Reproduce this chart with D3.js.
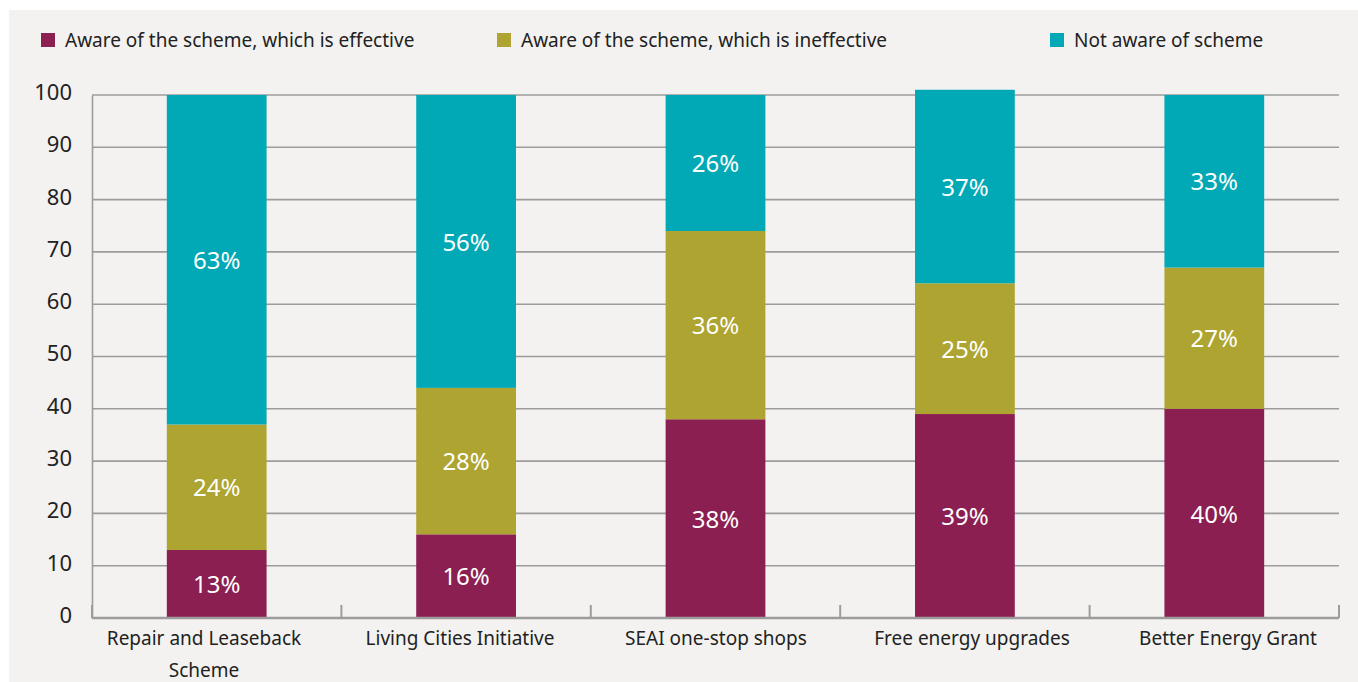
<!DOCTYPE html>
<html>
<head>
<meta charset="utf-8">
<script src="https://cdn.jsdelivr.net/npm/d3@7"></script>
<style>
  body { margin: 0; background: #ffffff; }
  svg { display: block; }
</style>
</head>
<body>
<div class="chart"></div>
<script>
// chart data
const categories = [
    ["Repair and Leaseback", "Scheme"],
    ["Living Cities Initiative"],
    ["SEAI one-stop shops"],
    ["Free energy upgrades"],
    ["Better Energy Grant"]
];
const seriesNames = [
    "Aware of the scheme, which is effective",
    "Aware of the scheme, which is ineffective",
    "Not aware of scheme"
];
const effective = [13, 16, 38, 39, 40];
const ineffective = [24, 28, 36, 25, 27];
const notAware = [63, 56, 26, 37, 33];
const yTicks = [0, 10, 20, 30, 40, 50, 60, 70, 80, 90, 100];

const colors = ["#8c1f51", "#ada431", "#00a9b5"];

const svgWidth = 1358;
const svgHeight = 682;
const margin = { top: 95, bottom: 64, left: 92, right: 19 };
const width = svgWidth - margin.left - margin.right;
const height = svgHeight - margin.top - margin.bottom;
const fontFamily = '"Noto Sans", "Open Sans", sans-serif';

var svg = d3.select('div.chart')
    .append('svg')
    .attr('width', svgWidth)
    .attr('height', svgHeight)
    .style('font-family', fontFamily);

// panel background
svg.append('rect')
    .attr('x', 9).attr('y', 10)
    .attr('width', svgWidth - 9).attr('height', svgHeight - 10)
    .attr('fill', '#f3f2f0');

var chart = svg.append('g')
    .attr('transform', 'translate(' + margin.left + ',' + margin.top + ')');

var x = d3.scaleBand()
    .domain(d3.range(categories.length))
    .range([0, width])
    .paddingInner(0.6)
    .paddingOuter(0.3);

// the category labels sit a little wider apart than the bars
var xLabel = d3.scalePoint()
    .domain(d3.range(categories.length))
    .range([112, 1136]);

var y = d3.scaleLinear()
    .domain([0, 100])
    .range([height, 0]);

// gridlines
chart.append('g')
    .selectAll('line')
    .data(yTicks.filter(d => d > 0))
    .enter()
    .append('line')
    .attr('x1', 0).attr('x2', width)
    .attr('y1', d => y(d)).attr('y2', d => y(d))
    .attr('stroke', '#9c9c9c')
    .attr('stroke-width', 1.6);

// stacked data
const rows = categories.map((c, i) => ({ i: i, v0: effective[i], v1: ineffective[i], v2: notAware[i] }));
var stack = d3.stack().keys(['v0', 'v1', 'v2']);
var layers = stack(rows);

var layer = chart.selectAll('g.layer')
    .data(layers)
    .enter()
    .append('g')
    .attr('class', 'layer')
    .attr('fill', (d, i) => colors[i]);

layer.selectAll('rect')
    .data(d => d)
    .enter()
    .append('rect')
    .attr('x', d => x(d.data.i))
    .attr('y', d => y(d[1]))
    .attr('width', x.bandwidth())
    .attr('height', d => y(d[0]) - y(d[1]));

layer.selectAll('text')
    .data(d => d)
    .enter()
    .append('text')
    .attr('x', d => x(d.data.i) + x.bandwidth() / 2)
    .attr('y', d => (y(d[0]) + y(d[1])) / 2)
    .attr('dy', '0.38em')
    .attr('text-anchor', 'middle')
    .attr('fill', '#ffffff')
    .style('font-size', '24px')
    .text(d => (d[1] - d[0]) + '%');

// y axis
var y_axis = d3.axisLeft(y).tickValues(yTicks).tickSize(0).tickPadding(20);
var gy = chart.append('g').call(y_axis).attr('font-family', fontFamily);
gy.select('.domain').attr('stroke', '#9c9c9c').attr('stroke-width', 1.6);
gy.selectAll('text')
    .attr('dy', '0.2em')
    .style('font-size', '22px')
    .attr('fill', '#222222');

// x axis baseline with upward ticks at band boundaries
var bottom = chart.append('g').attr('transform', 'translate(0,' + height + ')');
bottom.append('line')
    .attr('x1', 0).attr('x2', width)
    .attr('stroke', '#9c9c9c').attr('stroke-width', 2.4);
const step = width / categories.length;
bottom.selectAll('line.tick')
    .data(d3.range(categories.length + 1))
    .enter()
    .append('line')
    .attr('class', 'tick')
    .attr('x1', d => d * step)
    .attr('x2', d => d * step)
    .attr('y1', 0).attr('y2', -13)
    .attr('stroke', '#9c9c9c').attr('stroke-width', 2);

var labels = bottom.selectAll('text.cat')
    .data(categories)
    .enter()
    .append('text')
    .attr('class', 'cat')
    .attr('text-anchor', 'middle')
    .attr('fill', '#222222')
    .style('font-size', '19px');
labels.selectAll('tspan')
    .data((d, i) => d.map(t => ({ t: t, i: i })))
    .enter()
    .append('tspan')
    .attr('x', d => xLabel(d.i))
    .attr('y', (d, j) => 27 + j * 32)
    .text(d => d.t);

// legend
const legendX = [41, 497, 1050];
var legend = svg.append('g')
    .selectAll('g')
    .data(seriesNames)
    .enter()
    .append('g')
    .attr('transform', (d, i) => 'translate(' + legendX[i] + ',33)');
legend.append('rect')
    .attr('width', 14).attr('height', 14)
    .attr('fill', (d, i) => colors[i]);
legend.append('text')
    .attr('x', 24).attr('y', 14)
    .attr('fill', '#222222')
    .style('font-size', '19px')
    .text(d => d);
</script>
</body>
</html>
